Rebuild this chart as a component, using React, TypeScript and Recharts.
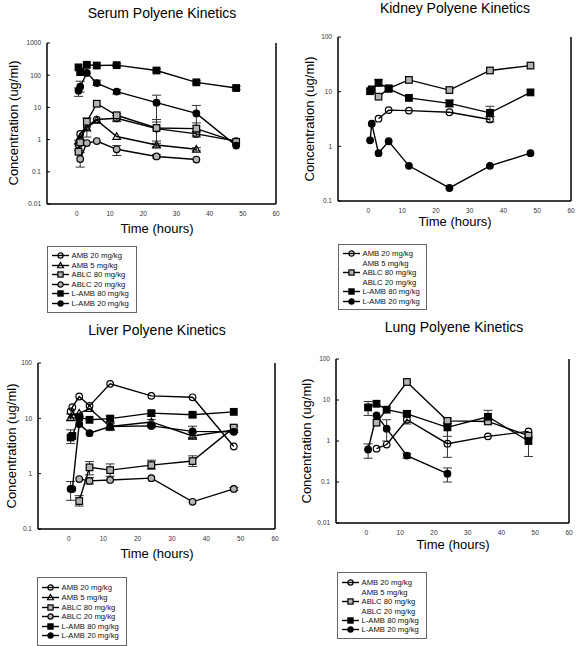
import React from "react";
import { LineChart, Line, XAxis, YAxis, ErrorBar, Legend } from "recharts";

const FONT = "'Liberation Sans', Arial, Helvetica, sans-serif";
const GRAY = "#b3b3b3";

type Val = number | null;
type Err = [number, number] | null;
type Shape = "circle" | "triangle" | "square";

// sampling times (hours), shared by every panel
const TIMES = [0.5, 1, 3, 6, 12, 24, 36, 48];
const X_TICKS = [0, 10, 20, 30, 40, 50, 60];

const NAMES = [
  "AMB 20 mg/kg",
  "AMB 5 mg/kg",
  "ABLC 80 mg/kg",
  "ABLC 20 mg/kg",
  "L-AMB 80 mg/kg",
  "L-AMB 20 mg/kg",
];
const SHAPES: Shape[] = ["circle", "triangle", "square", "circle", "square", "circle"];
const FILLS = ["none", "none", GRAY, GRAY, "#000", "#000"];

// Serum
const serumAmb20: Val[] = [0.7, 1.5, 2.6, 4.2, 4.6, 2.2, 1.5, 0.9];
const serumAmb5: Val[] = [0.9, 1.2, 2.3, 4.0, 1.25, 0.68, 0.5, null];
const serumAblc80: Val[] = [0.42, 0.82, 3.6, 13, 5.7, 2.3, 2.2, 0.85];
const serumAblc20: Val[] = [null, 0.25, 0.78, 0.9, 0.5, 0.3, 0.24, null];
const serumLamb80: Val[] = [175, 125, 210, 200, 205, 140, 60, 40];
const serumLamb20: Val[] = [33, 44, 118, 57, 31, 14, 6.5, 0.65];

const serumAmb20Err: Err[] = [[0.45, 0.95], null, null, null, [3.6, 5.6], null, [1.2, 1.8], null];
const serumAmb5Err: Err[] = [null, null, null, null, null, [0.6, 0.77], [0.45, 0.56], null];
const serumAblc80Err: Err[] = [null, null, [1.2, 4.7], null, [3.8, 6.5], [0.9, 4.2], [1.3, 3.3], null];
const serumAblc20Err: Err[] = [null, [0.14, 0.4], null, null, [0.32, 0.65], [0.27, 0.34], null, null];
const serumLamb80Err: Err[] = [null, null, null, null, [185, 225], [125, 155], [55, 67], [36, 45]];
const serumLamb20Err: Err[] = [[22, 40], [30, 65], null, [48, 70], [26, 36], [3.5, 24], [1.7, 11.5], null];

// Kidney
const kidneyAmb20: Val[] = [null, null, 3.2, 4.6, 4.5, 4.2, 3.1, null];
const kidneyAblc80: Val[] = [null, null, 8.1, 11.5, 16.4, 10.7, 24.4, 30];
const kidneyLamb80: Val[] = [10.2, 11, 14.6, 11.3, 7.7, 6.1, 4.1, 9.7];
const kidneyLamb20: Val[] = [1.29, 2.6, 0.75, 1.24, 0.44, 0.173, 0.44, 0.75];

const kidneyAmb20Err: Err[] = [null, null, null, null, null, null, [2.8, 3.5], null];
const kidneyLamb80Err: Err[] = [null, null, [12.5, 16.5], null, null, [5.3, 7.0], [3.5, 5.4], null];

// Liver
const liverAmb20: Val[] = [13.3, 15.9, 24.8, 16.8, 42, 25.5, 24, 3.1];
const liverAmb5: Val[] = [10.3, 11.5, 12.3, 15, 7.1, 8.6, 4.8, 6.2];
const liverAblc80: Val[] = [null, null, 0.32, 1.3, 1.16, 1.43, 1.69, 6.8];
const liverAblc20: Val[] = [null, null, 0.8, 0.74, 0.77, 0.83, 0.31, 0.53];
const liverLamb80: Val[] = [4.5, 4.8, 10.5, 9.4, 9.9, 12.4, 11.6, 13.1];
const liverLamb20: Val[] = [0.53, 0.53, 7.9, 5.4, 7.1, 7.3, 5.8, 5.7];

const liverAmb5Err: Err[] = [[9, 12], null, null, null, [6, 8.3], [7.5, 9.5], [4.2, 5.5], null];
const liverAblc80Err: Err[] = [null, null, [0.26, 0.4], [0.95, 1.65], [0.9, 1.5], [1.2, 1.75], [1.35, 2.1], [6, 7.3]];
const liverAblc20Err: Err[] = [null, null, null, [0.65, 0.85], null, null, null, [0.5, 0.56]];
const liverLamb80Err: Err[] = [[3.5, 6.2], null, null, null, [8.7, 11], [11, 13.5], [10.5, 12.6], null];
const liverLamb20Err: Err[] = [[0.33, 0.72], null, null, null, [6.2, 8], [6.8, 8], [4.5, 7.2], null];

// Lung
const lungAmb20: Val[] = [null, null, 0.65, 0.82, 3.3, 0.86, 1.3, 1.72];
const lungAblc80: Val[] = [null, null, 2.8, null, 27.5, 3.1, 3.0, 1.35];
const lungLamb80: Val[] = [6.6, null, 8.1, 5.8, 4.6, 2.15, 3.9, 1.0];
const lungLamb20: Val[] = [0.62, null, 4.2, 2.0, 0.44, 0.16, null, null];

const lungAmb20Err: Err[] = [null, null, null, null, [2.6, 4.3], [0.4, 2.4], null, null];
const lungAblc80Err: Err[] = [null, null, null, null, null, [2.7, 3.5], [2.6, 3.4], null];
const lungLamb80Err: Err[] = [[4.2, 9.2], null, null, null, [4.0, 5.4], [1.3, 2.9], [3.2, 5.6], [0.42, 1.3]];
const lungLamb20Err: Err[] = [[0.38, 0.85], null, null, [1.0, 3.3], [0.38, 0.5], [0.1, 0.22], null, null];

// axes are 1px wide/high, so margins are one pixel short of the plot edges
const PANELS = [
  {
    key: "serum",
    title: "Serum Polyene Kinetics",
    box: { left: 0, top: 0, width: 290, height: 320 },
    margin: { top: 43, right: 13, bottom: 115, left: 46 },
    yDomain: [0.01, 1000],
    yTicks: [0.01, 0.1, 1, 10, 100, 1000],
    values: [serumAmb20, serumAmb5, serumAblc80, serumAblc20, serumLamb80, serumLamb20],
    errors: [serumAmb20Err, serumAmb5Err, serumAblc80Err, serumAblc20Err, serumLamb80Err, serumLamb20Err],
    titleAt: [162, 13],
    xLabelAt: [157, 228],
    yLabelAt: [13, 123],
    legend: { x: 47, y: 246, w: 90, h: 67, rowH: 9.5, padTop: 4.2 },
    legendMarks: [true, true, true, true, true, true],
  },
  {
    key: "kidney",
    title: "Kidney Polyene Kinetics",
    box: { left: 290, top: 0, width: 286, height: 320 },
    margin: { top: 37, right: 4, bottom: 118, left: 47 },
    yDomain: [0.1, 100],
    yTicks: [0.1, 1, 10, 100],
    values: [kidneyAmb20, null, kidneyAblc80, null, kidneyLamb80, kidneyLamb20],
    errors: [kidneyAmb20Err, null, null, null, kidneyLamb80Err, null],
    titleAt: [455, 8],
    xLabelAt: [455, 221],
    yLabelAt: [309, 119],
    legend: { x: 48, y: 244, w: 89, h: 66, rowH: 9.5, padTop: 4.2 },
    legendMarks: [true, false, true, false, true, true],
  },
  {
    key: "liver",
    title: "Liver Polyene Kinetics",
    box: { left: 0, top: 320, width: 290, height: 326 },
    margin: { top: 43, right: 14, bottom: 116, left: 37 },
    yDomain: [0.1, 100],
    yTicks: [0.1, 1, 10, 100],
    values: [liverAmb20, liverAmb5, liverAblc80, liverAblc20, liverLamb80, liverLamb20],
    errors: [null, liverAmb5Err, liverAblc80Err, liverAblc20Err, liverLamb80Err, liverLamb20Err],
    titleAt: [157, 330],
    xLabelAt: [157, 553],
    yLabelAt: [11, 446],
    legend: { x: 37, y: 257, w: 90, h: 69, rowH: 9.6, padTop: 5.2 },
    legendMarks: [true, true, true, true, true, true],
  },
  {
    key: "lung",
    title: "Lung Polyene Kinetics",
    box: { left: 290, top: 320, width: 286, height: 326 },
    margin: { top: 39, right: 6, bottom: 122, left: 45 },
    yDomain: [0.01, 100],
    yTicks: [0.01, 0.1, 1, 10, 100],
    values: [lungAmb20, null, lungAblc80, null, lungLamb80, lungLamb20],
    errors: [lungAmb20Err, null, lungAblc80Err, null, lungLamb80Err, lungLamb20Err],
    titleAt: [454, 327],
    xLabelAt: [453, 544],
    yLabelAt: [306, 441],
    legend: { x: 47, y: 252, w: 90, h: 67, rowH: 9.4, padTop: 5.3 },
    legendMarks: [true, false, true, false, true, true],
  },
];

function buildSeries(vals: Val[], errs: Err[] | null) {
  const out: { t: number; v: number; err?: [number, number] }[] = [];
  TIMES.forEach((t, i) => {
    const v = vals[i];
    if (v == null) return;
    const e = errs ? errs[i] : null;
    out.push({ t, v, err: e ? [v - e[0], e[1] - v] : undefined });
  });
  return out;
}

function Marker({ shape, fill, cx, cy, r }: { shape: Shape; fill: string; cx: number; cy: number; r: number }) {
  const sw = 1.2;
  if (shape === "square") {
    return <rect x={cx - r} y={cy - r} width={2 * r} height={2 * r} fill={fill} stroke="#000" strokeWidth={sw} />;
  }
  if (shape === "triangle") {
    const h = r * 1.15;
    const pts = `${cx},${cy - h} ${cx + h},${cy + h * 0.75} ${cx - h},${cy + h * 0.75}`;
    return <polygon points={pts} fill={fill} stroke="#000" strokeWidth={sw} />;
  }
  return <circle cx={cx} cy={cy} r={r} fill={fill} stroke="#000" strokeWidth={sw} />;
}

function makeDot(shape: Shape, fill: string) {
  return (props: any) => {
    const { cx, cy, index } = props;
    if (cx == null || cy == null) return <g key={index} />;
    return (
      <g key={index}>
        <Marker shape={shape} fill={fill} cx={cx} cy={cy} r={3.3} />
      </g>
    );
  };
}

function LegendBox({ legend, marks }: { legend: any; marks: boolean[] }) {
  return (
    <div
      style={{
        width: legend.w,
        height: legend.h,
        boxSizing: "border-box",
        border: "1px solid #666",
        background: "#fff",
        paddingTop: legend.padTop,
        paddingLeft: 4,
        fontFamily: FONT,
        fontSize: 7.7,
        color: "#111",
      }}
    >
      {NAMES.map((name, i) => (
        <div key={name} style={{ display: "flex", alignItems: "center", height: legend.rowH, whiteSpace: "nowrap" }}>
          <svg width={18} height={9} style={{ flex: "none" }}>
            {marks[i] && (
              <>
                <line x1={0} x2={17} y1={4.5} y2={4.5} stroke="#000" strokeWidth={1.4} />
                <Marker shape={SHAPES[i]} fill={FILLS[i]} cx={8.5} cy={4.5} r={2.6} />
              </>
            )}
          </svg>
          <span style={{ marginLeft: 1.5 }}>{name}</span>
        </div>
      ))}
    </div>
  );
}

const tickStyle = { fontSize: 6.5, fill: "#333", fontFamily: FONT };
const axisStroke = { stroke: "#000", strokeWidth: 1.5 };

function Panel({ p }: { p: (typeof PANELS)[number] }) {
  return (
    <div style={{ position: "absolute", left: p.box.left, top: p.box.top }}>
      <LineChart width={p.box.width} height={p.box.height} margin={p.margin}>
        <XAxis
          type="number"
          dataKey="t"
          domain={[-9, 60]}
          ticks={X_TICKS}
          interval={0}
          allowDataOverflow
          height={1}
          tickLine={false}
          tickSize={4}
          tickMargin={3}
          axisLine={axisStroke}
          tick={tickStyle}
        />
        <YAxis
          type="number"
          scale="log"
          domain={p.yDomain}
          ticks={p.yTicks}
          interval={0}
          allowDataOverflow
          width={1}
          tickSize={-3}
          tickMargin={9}
          tickLine={{ stroke: "#000", strokeWidth: 1 }}
          axisLine={axisStroke}
          tick={tickStyle}
          tickFormatter={(v: number) => String(v)}
        />
        <YAxis
          yAxisId="frame"
          orientation="right"
          type="number"
          scale="log"
          domain={p.yDomain}
          allowDataOverflow
          width={1}
          tick={false}
          tickLine={false}
          axisLine={axisStroke}
        />
        {p.values.map((vals, i) =>
          vals ? (
            <Line
              key={NAMES[i]}
              name={NAMES[i]}
              data={buildSeries(vals, p.errors[i])}
              dataKey="v"
              type="linear"
              stroke="#000"
              strokeWidth={1.4}
              dot={makeDot(SHAPES[i], FILLS[i])}
              activeDot={false}
              connectNulls
              isAnimationActive={false}
            >
              {p.errors[i] && (
                <ErrorBar dataKey="err" direction="y" width={4.5} stroke="#333" strokeWidth={1} />
              )}
            </Line>
          ) : null
        )}
        <Legend
          layout="horizontal"
          verticalAlign="middle"
          align="center"
          wrapperStyle={{ left: p.legend.x, top: p.legend.y, width: p.legend.w, height: p.legend.h }}
          content={() => <LegendBox legend={p.legend} marks={p.legendMarks} />}
        />
      </LineChart>
    </div>
  );
}

function TextAt({ x, y, text, size, rotate }: { x: number; y: number; text: string; size: number; rotate?: boolean }) {
  return (
    <div
      style={{
        position: "absolute",
        left: x,
        top: y,
        transform: `translate(-50%, -50%)${rotate ? " rotate(-90deg)" : ""}`,
        fontFamily: FONT,
        fontSize: size,
        lineHeight: 1,
        whiteSpace: "nowrap",
        color: "#000",
      }}
    >
      {text}
    </div>
  );
}

export default function App() {
  return (
    <div
      style={{
        position: "absolute",
        left: 0,
        top: 0,
        width: 576,
        height: 646,
        background: "#fff",
        overflow: "hidden",
      }}
    >
      {PANELS.map((p) => (
        <Panel key={p.key} p={p} />
      ))}
      {PANELS.map((p) => (
        <React.Fragment key={p.key + "-text"}>
          <TextAt x={p.titleAt[0]} y={p.titleAt[1]} text={p.title} size={14} />
          <TextAt x={p.xLabelAt[0]} y={p.xLabelAt[1]} text="Time (hours)" size={13} />
          <TextAt x={p.yLabelAt[0]} y={p.yLabelAt[1]} text="Concentration (ug/ml)" size={13} rotate />
        </React.Fragment>
      ))}
    </div>
  );
}
